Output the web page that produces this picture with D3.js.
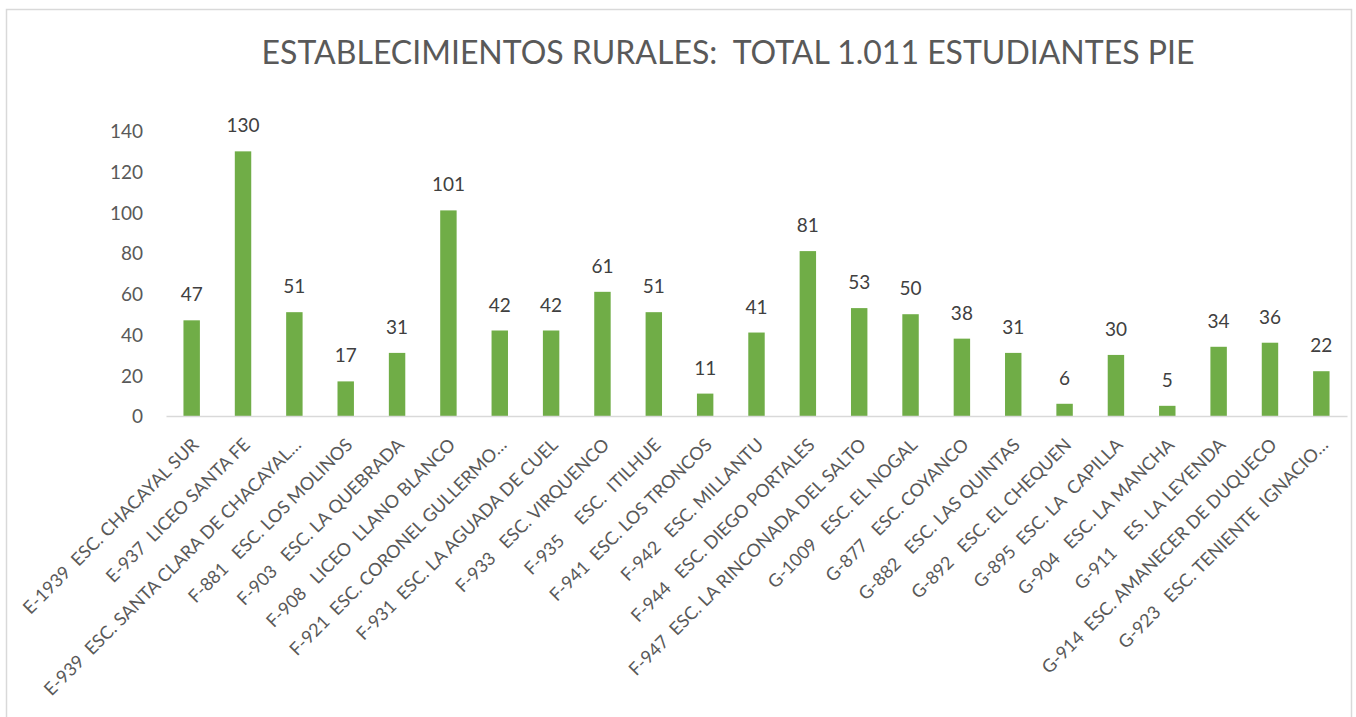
<!DOCTYPE html>
<html>
<head>
<meta charset="utf-8">
<script src="https://cdn.jsdelivr.net/npm/d3@7"></script>
<style>
  body { margin: 0; background: #fff; }
  svg { display: block; font-family: Lato, "Open Sans", sans-serif; }
  .cat text { white-space: pre; }
</style>
</head>
<body>
<svg id="chart"></svg>
<script>
// --- Data ---
const title = "ESTABLECIMIENTOS RURALES:  TOTAL 1.011 ESTUDIANTES PIE";

const schools = [
    "E-1939  ESC. CHACAYAL SUR",
    "E-937  LICEO SANTA FE",
    "E-939  ESC. SANTA CLARA DE CHACAYAL…",
    "F-881   ESC. LOS MOLINOS",
    "F-903   ESC. LA QUEBRADA",
    "F-908   LICEO  LLANO BLANCO",
    "F-921  ESC. CORONEL GULLERMO…",
    "F-931  ESC. LA AGUADA DE CUEL",
    "F-933   ESC. VIRQUENCO",
    "F-935     ESC.  ITILHUE",
    "F-941  ESC. LOS TRONCOS",
    "F-942   ESC. MILLANTU",
    "F-944   ESC. DIEGO PORTALES",
    "F-947  ESC. LA RINCONADA DEL SALTO",
    "G-1009   ESC. EL NOGAL",
    "G-877   ESC. COYANCO",
    "G-882   ESC. LAS QUINTAS",
    "G-892   ESC. EL CHEQUEN",
    "G-895  ESC. LA  CAPILLA",
    "G-904   ESC. LA MANCHA",
    "G-911    ES. LA LEYENDA",
    "G-914  ESC. AMANECER DE DUQUECO",
    "G-923   ESC. TENIENTE  IGNACIO…"
];

const students = [47, 130, 51, 17, 31, 101, 42, 42, 61, 51, 11, 41, 81, 53, 50, 38, 31, 6, 30, 5, 34, 36, 22];

const yTicks = [0, 20, 40, 60, 80, 100, 120, 140];

const data = schools.map((name, i) => ({ name, value: students[i] }));

// --- Sizing ---
const width = 1356;
const height = 717;
const plot = { left: 166, right: 1347, top: 131, bottom: 416 };

const svg = d3.select("#chart")
    .attr("width", width)
    .attr("height", height);

// chart frame
svg.append("rect")
    .attr("x", 6.5)
    .attr("y", 9.5)
    .attr("width", 1345)
    .attr("height", 720)
    .attr("fill", "#fff")
    .attr("stroke", "#d9d9d9")
    .attr("stroke-width", 1.5);

// --- Scales ---
const x = d3.scaleBand()
    .domain(schools)
    .range([plot.left, plot.right])
    .paddingInner(0.68)
    .paddingOuter(0.34);

const y = d3.scaleLinear()
    .domain([0, 140])
    .range([plot.bottom, plot.top]);

// --- Title ---
svg.append("text")
    .attr("x", 728)
    .attr("y", 64)
    .attr("text-anchor", "middle")
    .attr("fill", "#595959")
    .attr("font-size", 32)
    .style("white-space", "pre")
    .text(title);

// --- Y axis (labels only) ---
const yAxis = svg.append("g")
    .attr("transform", `translate(${plot.left - 23},0)`)
    .call(d3.axisLeft(y).tickValues(yTicks).tickSize(0).tickPadding(0));
yAxis.select(".domain").remove();
yAxis.selectAll("text")
    .attr("font-family", "Lato, 'Open Sans', sans-serif")
    .attr("font-size", 19)
    .attr("fill", "#595959")
    .attr("dy", "0.36em");

// --- Bars ---
svg.append("g")
    .selectAll("rect")
    .data(data)
    .join("rect")
    .attr("x", d => x(d.name))
    .attr("y", d => y(d.value))
    .attr("width", x.bandwidth())
    .attr("height", d => y(0) - y(d.value))
    .attr("fill", "#70ad47");

// --- Value labels ---
svg.append("g")
    .selectAll("text")
    .data(data)
    .join("text")
    .attr("x", d => x(d.name) + x.bandwidth() / 2)
    .attr("y", d => y(d.value) - 19)
    .attr("text-anchor", "middle")
    .attr("font-size", 19)
    .attr("fill", "#404040")
    .text(d => d.value);

// --- X axis ---
const xAxis = svg.append("g")
    .attr("class", "cat")
    .attr("transform", `translate(0,${plot.bottom})`)
    .call(d3.axisBottom(x).tickSize(0).tickPadding(0));
xAxis.select(".domain")
    .attr("stroke", "#d9d9d9")
    .attr("stroke-width", 1.5);
xAxis.selectAll(".tick text")
    .attr("font-family", "Lato, 'Open Sans', sans-serif")
    .attr("font-size", 18)
    .attr("fill", "#595959")
    .attr("text-anchor", "end")
    .attr("dy", 0)
    .attr("y", 0)
    .attr("transform", "translate(8,30) rotate(-45)");
</script>
</body>
</html>
